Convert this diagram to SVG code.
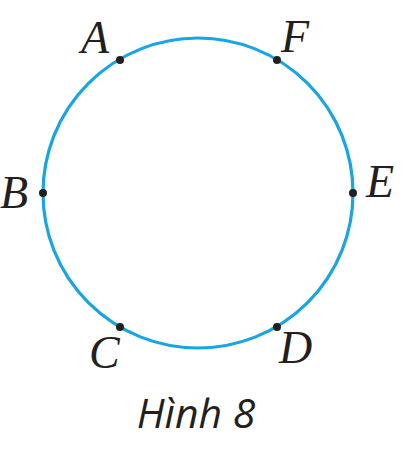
<svg xmlns="http://www.w3.org/2000/svg" width="410" height="457" viewBox="0 0 410 457">
<style>
.lbl{font-family:"Liberation Serif","Times New Roman",serif;font-style:italic;font-size:46px;fill:#231f20}
.cap{font-family:"Open Sans","Liberation Sans",sans-serif;font-style:italic;font-size:41px;fill:#231f20}
.pt{fill:#231f20}
</style>
<rect width="410" height="457" fill="#ffffff"/>
<g id="connectors">
<circle cx="198" cy="193" r="155" fill="none" stroke="#19a5e4" stroke-width="3.2"/>
</g>
<g id="A"><circle class="pt" cx="120" cy="60" r="4"/><text class="lbl" x="81" y="53">A</text></g>
<g id="F"><circle class="pt" cx="277" cy="60" r="4"/><text class="lbl" x="281" y="52">F</text></g>
<g id="B"><circle class="pt" cx="43" cy="193" r="4"/><text class="lbl" x="0" y="208">B</text></g>
<g id="E"><circle class="pt" cx="353" cy="193" r="4"/><text class="lbl" x="366" y="197">E</text></g>
<g id="C"><circle class="pt" cx="120" cy="327" r="4"/><text class="lbl" x="89" y="368">C</text></g>
<g id="D"><circle class="pt" cx="277" cy="327" r="4"/><text class="lbl" x="279" y="363">D</text></g>
<text class="cap" x="196" y="428" text-anchor="middle">Hình 8</text>
</svg>
